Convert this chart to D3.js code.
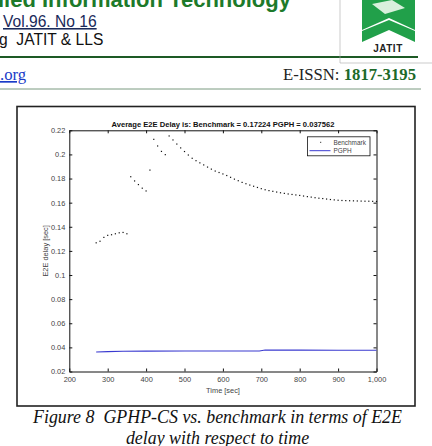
<!DOCTYPE html>
<html>
<head>
<meta charset="utf-8">
<script src="https://cdn.jsdelivr.net/npm/d3@7"></script>
<style>
  body { margin: 0; background: #fff; }
  svg { display: block; }
</style>
</head>
<body>
<div class="canvas"></div>
<script>
// data
const benchTime = d3.range(270, 1001, 10);
const benchDelay = [
  0.1267, 0.1280, 0.1312, 0.1329, 0.1334, 0.1342, 0.1350, 0.1353, 0.1342,
  0.1815, 0.1780, 0.1750, 0.1720, 0.1697,
  0.1870,
  0.2125, 0.2070, 0.2025, 0.1998,
  0.2153, 0.2120, 0.2086, 0.2054, 0.2024, 0.1995, 0.1968, 0.1948, 0.1930, 0.1913,
  0.1895, 0.1878, 0.1862, 0.1850, 0.1838, 0.1825, 0.1810, 0.1795, 0.1782, 0.1768,
  0.1757, 0.1746, 0.1736, 0.1726, 0.1716, 0.1707, 0.1700, 0.1694, 0.1688, 0.1682,
  0.1677, 0.1672, 0.1668, 0.1664, 0.1660, 0.1655, 0.1650, 0.1646, 0.1641, 0.1637,
  0.1634, 0.1630, 0.1626, 0.1623, 0.1620, 0.1618, 0.1617, 0.1616, 0.1615, 0.1614,
  0.1613, 0.1612, 0.1612, 0.1611, 0.1610
];
const pgphTime = [270, 300, 340, 400, 500, 600, 695, 710, 800, 900, 1000];
const pgphDelay = [0.0362, 0.0365, 0.0368, 0.0369, 0.0370, 0.0370, 0.0370, 0.0378, 0.0377, 0.0376, 0.0376];
const xTicks = [200, 300, 400, 500, 600, 700, 800, 900, 1000];
const yTicks = [0.02, 0.04, 0.06, 0.08, 0.1, 0.12, 0.14, 0.16, 0.18, 0.2, 0.22];
const seriesNames = ['Benchmark', 'PGPH'];
const chartTitle = 'Average E2E Delay is: Benchmark = 0.17224 PGPH = 0.037562';

const svg = d3.select('.canvas')
  .append('svg')
  .attr('width', 432)
  .attr('height', 446);

// page header
const head = svg.append('g');
head.append('text').attr('x', -2).attr('y', 7)
  .attr('font-family', 'Liberation Sans, Arial').attr('font-weight', 'bold')
  .attr('font-size', 22).attr('fill', '#1d7a2a')
  .text('lied Information Technology');
head.append('text').attr('x', 3).attr('y', 27)
  .attr('font-family', 'Liberation Sans, Arial').attr('font-size', 15.6)
  .attr('fill', '#1a2a5a').attr('text-decoration', 'underline')
  .text('Vol.96. No 16');
head.append('text').attr('x', -1).attr('y', 44.5)
  .attr('font-family', 'Liberation Sans, Arial').attr('font-size', 15.6)
  .attr('fill', '#111').attr('xml:space', 'preserve')
  .text('g  JATIT & LLS');
head.append('line').attr('x1', 0).attr('x2', 418).attr('y1', 57).attr('y2', 57)
  .attr('stroke', '#1d5a25').attr('stroke-width', 2.2);
head.append('path').attr('d', 'M340,0V63H432')
  .attr('fill', 'none').attr('stroke', '#aaa').attr('stroke-width', 0.6);
// logo
const logo = head.append('g').attr('fill', '#21a04a');
logo.append('path').attr('d', 'M362,0H415V30L389,18L362,30Z');
logo.append('path').attr('d', 'M362,31L389,20L415,31V42L389,30L362,42Z');
logo.append('path').attr('d', 'M372,4L392,0L405,8L385,14Z').attr('fill', '#d8f0dc');
logo.append('text').attr('x', 388).attr('y', 52).attr('text-anchor', 'middle')
  .attr('font-family', 'Liberation Sans, Arial').attr('font-weight', 'bold')
  .attr('font-size', 10).attr('fill', '#222').attr('letter-spacing', 0.5).text('JATIT');

head.append('text').attr('x', 0).attr('y', 80)
  .attr('font-family', 'Liberation Serif, Times New Roman').attr('font-size', 16.7)
  .attr('fill', '#1a3cc8').attr('text-decoration', 'underline').text('.org');
const issn = head.append('text').attr('x', 416).attr('y', 80).attr('text-anchor', 'end')
  .attr('font-family', 'Liberation Serif, Times New Roman').attr('font-size', 16.7);
issn.append('tspan').attr('fill', '#222').text('E-ISSN: ');
issn.append('tspan').attr('fill', '#1d6a2a').attr('font-weight', 'bold').text('1817-3195');
head.append('line').attr('x1', 0).attr('x2', 421).attr('y1', 89).attr('y2', 89)
  .attr('stroke', '#7a9a80').attr('stroke-width', 1);

// figure frame
svg.append('rect').attr('x', 17).attr('y', 106.5).attr('width', 398).attr('height', 299.5)
  .attr('fill', 'none').attr('stroke', '#222').attr('stroke-width', 1.6);

// chart
const x = d3.scaleLinear().domain([200, 1000]).range([69.3, 376.5]);
const y = d3.scaleLinear().domain([0.02, 0.22]).range([371.5, 130.3]);
const fmtY = d => String(+d.toFixed(2));

const chart = svg.append('g')
  .attr('font-family', 'Liberation Sans, Arial');

const styleAxis = g => {
  g.select('.domain').attr('stroke', '#111').attr('stroke-width', 1);
  g.selectAll('.tick line').attr('stroke', '#111');
  g.selectAll('.tick text').attr('fill', '#444').attr('font-size', 7.4)
    .attr('font-family', 'Liberation Sans, Arial');
};

chart.append('g').attr('transform', `translate(0,${y(0.02)})`)
  .call(d3.axisBottom(x).tickValues(xTicks).tickSizeInner(-3).tickSizeOuter(0).tickPadding(5))
  .call(styleAxis);
chart.append('g').attr('transform', `translate(0,${y(0.22)})`)
  .call(d3.axisTop(x).tickValues(xTicks).tickSizeInner(-3).tickSizeOuter(0).tickFormat(''))
  .call(styleAxis);
chart.append('g').attr('transform', `translate(${x(200)},0)`)
  .call(d3.axisLeft(y).tickValues(yTicks).tickSizeInner(-3).tickSizeOuter(0).tickPadding(4).tickFormat(fmtY))
  .call(styleAxis);
chart.append('g').attr('transform', `translate(${x(1000)},0)`)
  .call(d3.axisRight(y).tickValues(yTicks).tickSizeInner(-3).tickSizeOuter(0).tickFormat(''))
  .call(styleAxis);

// title and labels
chart.append('text').attr('x', 223).attr('y', 127).attr('text-anchor', 'middle')
  .attr('font-weight', 'bold').attr('font-size', 7.6).attr('fill', '#111').text(chartTitle);
chart.append('text').attr('x', 223).attr('y', 393).attr('text-anchor', 'middle')
  .attr('font-size', 7.4).attr('fill', '#444').text('Time [sec]');
chart.append('text').attr('transform', `translate(47.5,${(y(0.02) + y(0.22)) / 2}) rotate(-90)`)
  .attr('text-anchor', 'middle').attr('font-size', 7.4).attr('fill', '#444').text('E2E delay [sec]');

// PGPH line
const line = d3.line().x((d, i) => x(pgphTime[i])).y(d => y(d));
chart.append('path').datum(pgphDelay).attr('d', line)
  .attr('fill', 'none').attr('stroke', '#3a3ad0').attr('stroke-width', 1.1);

// Benchmark dots
chart.selectAll('rect.dot').data(benchDelay).enter().append('rect')
  .attr('class', 'dot')
  .attr('x', (d, i) => x(benchTime[i]) - 0.6)
  .attr('y', d => y(d) - 0.6)
  .attr('width', 1.2).attr('height', 1.2)
  .attr('fill', '#111');

// legend
const lg = chart.append('g');
lg.append('rect').attr('x', 307.5).attr('y', 136.8).attr('width', 62.5).attr('height', 19)
  .attr('fill', '#fff').attr('stroke', '#111').attr('stroke-width', 0.8);
lg.append('rect').attr('x', 320.2).attr('y', 141.8).attr('width', 1).attr('height', 1).attr('fill', '#111');
lg.append('line').attr('x1', 309.5).attr('x2', 330.5).attr('y1', 150.7).attr('y2', 150.7)
  .attr('stroke', '#3a3ad0').attr('stroke-width', 1);
lg.selectAll('text').data(seriesNames).enter().append('text')
  .attr('x', 333.5).attr('y', (d, i) => 144.8 + i * 8.2)
  .attr('font-size', 6.4).attr('fill', '#444').text(d => d);

// caption
const cap = svg.append('g').attr('font-family', 'Liberation Serif, Times New Roman')
  .attr('font-style', 'italic').attr('font-size', 17.9).attr('fill', '#111')
  .attr('text-anchor', 'middle');
cap.append('text').attr('x', 217.5).attr('y', 423).attr('xml:space', 'preserve')
  .text('Figure 8  GPHP-CS vs. benchmark in terms of E2E');
cap.append('text').attr('x', 217.5).attr('y', 443.5).text('delay with respect to time');
</script>
</body>
</html>
